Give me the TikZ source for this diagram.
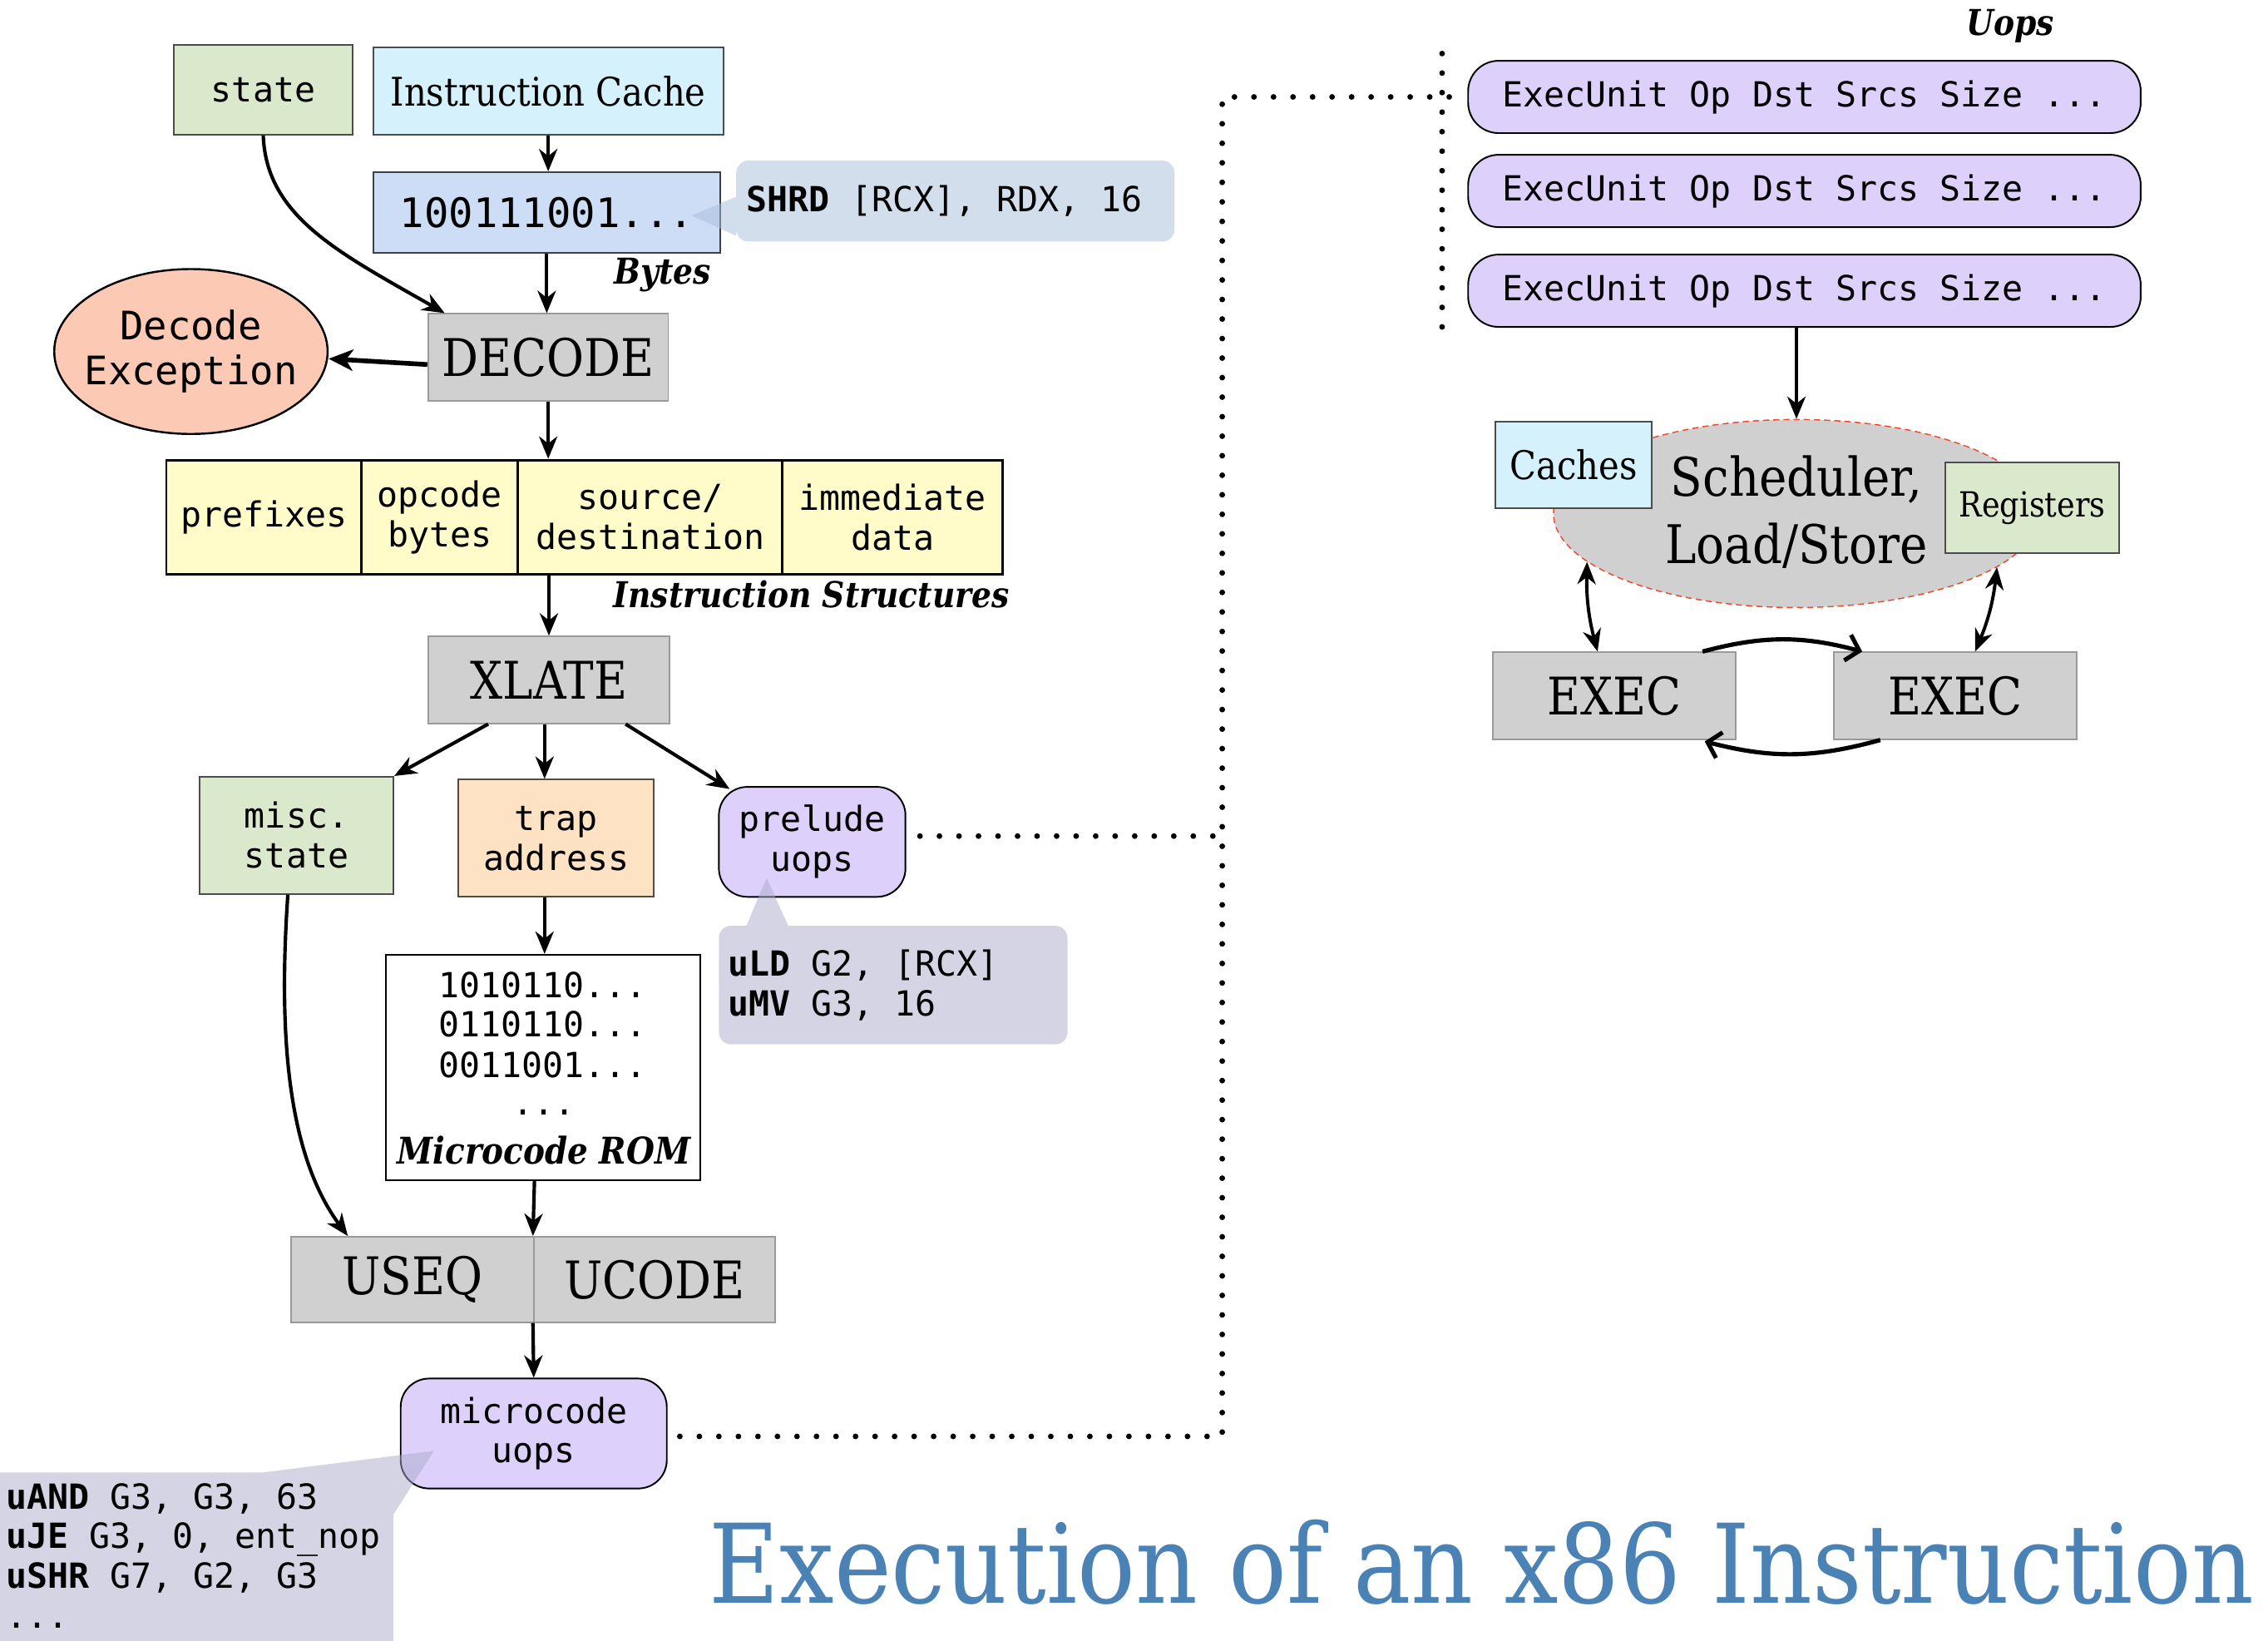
\documentclass[tikz,border=0pt]{standalone}
\usepackage{fontspec}
\setmainfont{DejaVu Serif}[FakeStretch=0.88]
\setmonofont{DejaVu Sans Mono}
\usetikzlibrary{arrows.meta,shapes.geometric,calc}

\definecolor{stategreen}{HTML}{DAE8CC}
\definecolor{cachecyan}{HTML}{D5F1FC}
\definecolor{bytesblue}{HTML}{CEDDF6}
\definecolor{shrdnote}{HTML}{A8BEDC}
\definecolor{unitgray}{HTML}{D0D0D0}
\definecolor{unitedge}{HTML}{999999}
\definecolor{excsalmon}{HTML}{FCC9B4}
\definecolor{structyellow}{HTML}{FFFCC9}
\definecolor{traporange}{HTML}{FDE2C4}
\definecolor{uoplavender}{HTML}{DDD0FB}
\definecolor{uopnote}{HTML}{ADABCB}
\definecolor{schededge}{HTML}{F04A2A}
\definecolor{bannerblue}{HTML}{4A82B6}

\newcommand\codefont{\ttfamily\fontsize{17}{19.6}\selectfont}
\newcommand\excfont{\ttfamily\fontsize{19.3}{22}\selectfont}
\newcommand\bitsfont{\ttfamily\fontsize{20}{24}\selectfont}
\newcommand\unitfont{\rmfamily\fontsize{25.5}{30}\selectfont}
\newcommand\schedfont{\rmfamily\fontsize{26.2}{33.4}\selectfont}
\newcommand\cachefont{\rmfamily\fontsize{19.4}{22}\selectfont}
\newcommand\regfont{\rmfamily\fontsize{17}{20}\selectfont}
\newcommand\notefont{\rmfamily\bfseries\itshape\fontsize{17.5}{20}\selectfont}
\newcommand\romfont{\rmfamily\bfseries\itshape\fontsize{18.1}{20}\selectfont}
\newcommand\bannerfont{\rmfamily\fontsize{54}{62}\selectfont}

\tikzset{
  every node/.style={inner sep=0pt, align=center},
  wh/.style 2 args={minimum width={#1*0.025cm}, minimum height={#2*0.025cm}},
  pastel/.style={draw=black!70, line width=0.8pt, font=\codefont},
  unitbox/.style={draw=unitedge, fill=unitgray, line width=0.8pt, font=\unitfont},
  structcell/.style={draw=black, fill=structyellow, line width=1.2pt, font=\codefont},
  uopbox/.style={draw=black, fill=uoplavender, line width=0.8pt, rounded corners=15pt, font=\codefont},
  flowarrow/.style={-{Stealth[length=11pt,width=9pt,inset=3.5pt]}, line width=1.7pt},
  duplex/.style={{Stealth[length=11pt,width=9pt,inset=3.5pt]}-{Stealth[length=11pt,width=9pt,inset=3.5pt]}, line width=1.6pt},
  loopback/.style={-{Straight Barb[length=6pt,width=13pt]}, line width=2.1pt},
  dotline/.style={line width=2.8pt, line cap=round, dash pattern=on 0pt off 9.6pt},
}

\begin{document}
\begin{tikzpicture}[x=0.025cm, y=-0.025cm]
\useasboundingbox (0,0) rectangle (1568,1134);
\fill[white] (0,0) rectangle (1568,1134);

% ---------- front end: fetch and decode ----------
\node[pastel, fill=stategreen, wh={124}{62}] (state) at (182,62) {state};
\node[pastel, fill=cachecyan, wh={242}{60}, font=\cachefont] (icache) at (379,63) {Instruction Cache};
\node[pastel, draw=black!75, fill=bytesblue, wh={240}{56}, font=\bitsfont] (bytes) at (378,147) {100111001...};

% decoded-instruction note with its pointer
\fill[shrdnote, fill opacity=0.5] [rounded corners=6pt] (509,111) rectangle (812,167)
  [sharp corners] (509,136) -- (478,149) -- (509,163) -- cycle;
\node[anchor=west, font=\codefont] (shrdtext) at (516,139) {\textbf{SHRD} [RCX], RDX, 16};

\node[font=\notefont] (lblbytes) at (458,190) {Bytes};

\node[unitbox, wh={166}{60}] (decode) at (379,247) {DECODE};
\node[ellipse, draw=black, fill=excsalmon, line width=1pt, wh={189}{114}] (exc) at (132,243) {};
\node[font=\excfont] (exctext) at (exc.center) {Decode\\Exception};

% instruction fields
\node[structcell, wh={135}{79}] (pre) at (182.5,357.5) {prefixes};
\node[structcell, wh={108}{79}] (opc) at (304,357.5) {opcode\\bytes};
\node[structcell, wh={183}{79}] (srd) at (449.5,357.5) {source/\\destination};
\node[structcell, wh={152}{79}] (imm) at (617,357.5) {immediate\\data};
\node[font=\notefont, anchor=east] (lblstruct) at (698,411) {Instruction Structures};

\node[unitbox, wh={167}{60}] (xlate) at (379.5,470) {XLATE};

\node[pastel, fill=stategreen, wh={134}{81}] (misc) at (205,577.5) {misc.\\state};
\node[pastel, fill=traporange, wh={135}{81}] (trap) at (384.5,579.5) {trap\\address};
\node[uopbox, rounded corners=14pt, wh={129}{76}] (prelude) at (561.5,582) {prelude\\uops};

% prelude micro-op note
\fill[uopnote, fill opacity=0.5] [rounded corners=6pt] (497,640) rectangle (738,722)
  [sharp corners] (516,640) -- (530,607) -- (545,640) -- cycle;
\node[anchor=west, align=left, font=\codefont] (prelnote) at (503,681) {\textbf{uLD} G2, [RCX]\\\textbf{uMV} G3, 16};

% microcode ROM
\node[draw=black, fill=white, line width=0.8pt, wh={217}{156}] (rom) at (375.5,738) {};
\node[font=\codefont] (romA) at (375,681) {1010110...};
\node[font=\codefont] (romB) at (375,708) {0110110...};
\node[font=\codefont] (romC) at (375,736) {0011001...};
\node[font=\codefont, anchor=base] (romD) at (376,771) {...};
\node[font=\romfont] (romlbl) at (376,795) {Microcode ROM};

\node[unitbox, wh={168}{59}] (useq) at (285,884.5) {USEQ};
\node[unitbox, wh={167}{59}] (ucode) at (452.5,884.5) {UCODE};
\node[uopbox, rounded corners=14pt, wh={184}{76}] (mcuops) at (369,991) {microcode\\uops};

% microcode micro-op note (its pointer is part of the outline)
\fill[uopnote, fill opacity=0.5] (-10,1145) -- (-10,1018) -- (181,1018) -- (300,1003)
  -- (272,1047) -- (272,1145) -- cycle;
\node[anchor=west, align=left, font=\codefont] (mcnote) at (4,1075.5)
  {\textbf{uAND} G3, G3, 63\\\textbf{uJE} G3, 0, ent\_nop\\\textbf{uSHR} G7, G2, G3\\...};

% ---------- front-end connectors ----------
\draw[flowarrow] (icache.south) -- (icache.south |- bytes.north);
\draw[flowarrow] (bytes.south) -- (bytes.south |- decode.north);
\draw[flowarrow] (state.south) .. controls (184,150) and (235,175) .. ($(decode.north west)+(12,0)$);
\draw[-{Stealth[length=12pt,width=10.5pt,inset=3.5pt]}, line width=2.3pt] ($(decode.west)+(0,5)$) -- ($(exc.east)+(0,5)$);
\draw[flowarrow] (decode.south) -- (decode.south |- srd.north);
\draw[flowarrow] (xlate.north |- srd.south) -- (xlate.north);
\draw[flowarrow] ($(xlate.south)+(-42,0)$) -- (misc.north east);
\draw[flowarrow] ($(xlate.south)+(-3,0)$) -- ($(trap.north)+(-8,0)$);
\draw[flowarrow] ($(xlate.south)+(53,0)$) -- ($(prelude.north west)+(8,2)$);
\draw[flowarrow] ($(trap.south)+(-8,0)$) -- ($(rom.north)+(1,0)$);
\draw[flowarrow] ($(misc.south)+(-6,0)$) .. controls (192,720) and (200,800) .. ($(useq.north west)+(40,0)$);
\draw[flowarrow] ($(rom.south)+(-6,0)$) -- (ucode.north west);
\draw[flowarrow] (ucode.south west) -- (mcuops.north);

% ---------- back end: micro-ops and execution ----------
\node[font=\notefont] (lbluops) at (1390,18) {Uops};
\node[uopbox, wh={465}{50}] (uop1) at (1247.5,67) {ExecUnit Op Dst Srcs Size ...};
\node[uopbox, wh={465}{50}] (uop2) at (1247.5,132) {ExecUnit Op Dst Srcs Size ...};
\node[uopbox, wh={465}{50}] (uop3) at (1247.5,201) {ExecUnit Op Dst Srcs Size ...};

\node[ellipse, fill=unitgray, draw=schededge, line width=0.6pt, dash pattern=on 3pt off 2pt,
      wh={336}{130}] (sched) at (1242,355) {};
\node[font=\schedfont] (schedtext) at (1242,354) {Scheduler,\\Load/Store};
\node[pastel, fill=cachecyan, wh={108}{60}, font=\cachefont] (caches) at (1088,321.5) {Caches};
\node[pastel, fill=stategreen, wh={120}{63}, font=\regfont] (regs) at (1405,351) {Registers};
\node[unitbox, wh={168}{60}] (exec1) at (1116,481) {EXEC};
\node[unitbox, wh={168}{60}] (exec2) at (1352,481) {EXEC};

\draw[flowarrow] (uop3.south -| sched.north) -- (sched.north);
\draw[duplex] (sched.193) to[bend right=8] ($(exec1.north)+(-11.5,0)$);
\draw[duplex] (sched.345) to[bend left=8] ($(exec2.north)+(13.5,0)$);
\draw[loopback] ($(exec1.north east)+(-23.5,0)$) to[bend left=15] ($(exec2.north west)+(20,0)$);
\draw[loopback] ($(exec2.south west)+(32.5,0)$) to[bend left=15] ($(exec1.south east)+(-22,1)$);

% ---------- dotted links from the micro-op sources to the queue ----------
\coordinate (busN) at (845,67);
\coordinate (busS) at (845,993);
\coordinate (prelOut) at (636,578);
\coordinate (mcOut) at (470,993);
\coordinate (queueTop) at (997,37);
\coordinate (queueBot) at (997,235);
\draw[dotline] (prelOut) -- (prelOut -| busS);
\draw[dotline] (mcOut) -- (busS) -- (busN) -- (uop1.west);
\draw[dotline] (queueTop) -- (queueBot);

% ---------- title ----------
\node[anchor=base west, font=\bannerfont, text=bannerblue] (banner) at (490,1108) {Execution of an x86 Instruction};
\end{tikzpicture}
\end{document}
